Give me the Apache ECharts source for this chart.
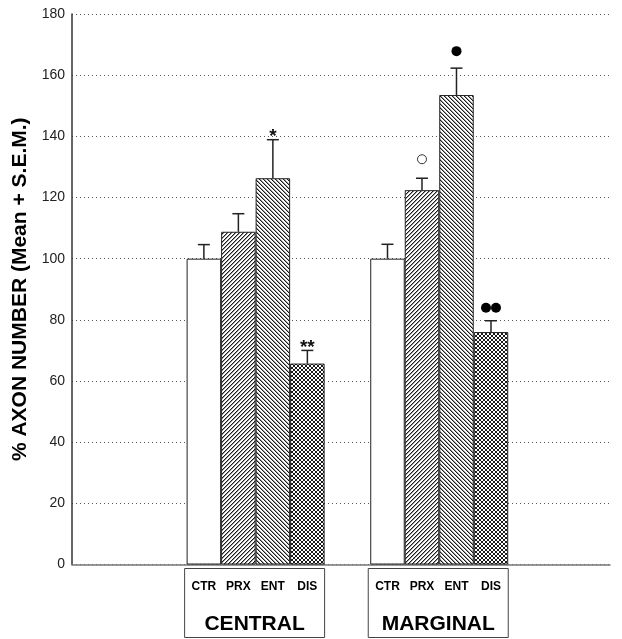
<!DOCTYPE html>
<html>
<head>
<meta charset="utf-8">
<script src="https://cdn.jsdelivr.net/npm/echarts@6/dist/echarts.min.js"></script>
<style>html,body{margin:0;padding:0;background:#fff;}#c{width:622px;height:639px;}</style>
</head>
<body>
<div id="c"></div>
<script>
// ---- data ----
const groups = ['CENTRAL', 'MARGINAL'];
const conditions = ['CTR', 'PRX', 'ENT', 'DIS'];
const ctrMean = [100, 100];
const ctrSem = [4.6, 4.7];
const prxMean = [108.8, 122.4];
const prxSem = [5.9, 3.9];
const entMean = [126.3, 153.5];
const entSem = [12.6, 8.8];
const disMean = [65.7, 76.0];
const disSem = [4.3, 3.7];
const ctrMarks = ['', ''];
const prxMarks = ['', '○'];
const entMarks = ['*', '●'];
const disMarks = ['**', '●●'];
const yTicks = [0, 20, 40, 60, 80, 100, 120, 140, 160, 180];
const yTitle = '% AXON NUMBER (Mean + S.E.M.)';

const means = [ctrMean, prxMean, entMean, disMean];
const sems = [ctrSem, prxSem, entSem, disSem];
const marks = [ctrMarks, prxMarks, entMarks, disMarks];

// ---- styles ----
const FONT = "'Liberation Sans', Arial, sans-serif";
const BAR_W = 34.5;
const INK = '#222';

function hatch(kind) {
  const n = 4;
  if (kind === 'none') return '#fff';
  const c = document.createElement('canvas');
  c.width = n; c.height = n;
  const g = c.getContext('2d');
  g.fillStyle = '#fff';
  g.fillRect(0, 0, n, n);
  for (let i = 0; i < n; i++) {
    if (kind === '/') {
      g.fillStyle = '#9a9a9a'; g.fillRect((i + 1) % n, n - 1 - i, 1, 1);
      g.fillStyle = '#1a1a1a'; g.fillRect(i, n - 1 - i, 1, 1);
    }
    if (kind === '\\') {
      g.fillStyle = '#9a9a9a'; g.fillRect((i + 1) % n, i, 1, 1);
      g.fillStyle = '#1a1a1a'; g.fillRect(i, i, 1, 1);
    }
    if (kind === 'x') {
      g.fillStyle = '#1a1a1a';
      g.fillRect(i, n - 1 - i, 1, 1);
      g.fillRect(i, i, 1, 1);
    }
  }
  return { image: c, repeat: 'repeat' };
}
const fills = [hatch('none'), hatch('/'), hatch('\\'), hatch('x')];

const chart = echarts.init(document.getElementById('c'), null, { renderer: 'canvas' });

const barSeries = conditions.map((name, k) => ({
  type: 'bar',
  name: name,
  data: groups.map((g, i) => [i + 1, means[k][i]]),
  barWidth: BAR_W,
  barGap: '0%',
  itemStyle: { color: fills[k], borderColor: INK, borderWidth: 1 },
  z: 2,
  silent: true
}));

const errSeries = conditions.map((name, k) => ({
  type: 'custom',
  name: name + '-err',
  data: groups.map((g, i) => [i + 1, means[k][i], means[k][i] + sems[k][i]]),
  z: 3,
  silent: true,
  renderItem: function (params, api) {
    const base = api.coord([api.value(0), api.value(1)]);
    const top = api.coord([api.value(0), api.value(2)]);
    const x = base[0] + (k - 1.5) * BAR_W;
    const yt = top[1];
    const children = [
      { type: 'line', shape: { x1: x, y1: base[1], x2: x, y2: yt }, style: { stroke: INK, lineWidth: 1.5 } },
      { type: 'line', shape: { x1: x - 6, y1: yt, x2: x + 6, y2: yt }, style: { stroke: INK, lineWidth: 1.5 } }
    ];
    const m = marks[k][params.dataIndex];
    if (m === '*' || m === '**') {
      children.push({ type: 'text', style: { text: m, x: x, y: yt - 3, align: 'center', verticalAlign: 'middle', font: 'bold 19px ' + FONT, fill: '#111' } });
    } else if (m === '○') {
      children.push({ type: 'circle', shape: { cx: x, cy: yt - 19, r: 4.5 }, style: { fill: '#fff', stroke: '#333', lineWidth: 1 } });
    } else if (m === '●') {
      children.push({ type: 'circle', shape: { cx: x, cy: yt - 17, r: 5 }, style: { fill: '#000' } });
    } else if (m === '●●') {
      children.push({ type: 'circle', shape: { cx: x - 5, cy: yt - 13, r: 5 }, style: { fill: '#000' } });
      children.push({ type: 'circle', shape: { cx: x + 5, cy: yt - 13, r: 5 }, style: { fill: '#000' } });
    }
    return { type: 'group', children: children };
  }
}));

const boxSeries = {
  type: 'custom',
  name: 'groups',
  data: groups.map((g, i) => [i + 1, 0]),
  z: 3,
  silent: true,
  renderItem: function (params, api) {
    const c = api.coord([api.value(0), 0]);
    const children = [
      { type: 'rect', shape: { x: c[0] - 71, y: c[1] + 4, width: 140, height: 69 }, style: { fill: 'none', stroke: '#444', lineWidth: 1 } },
      { type: 'text', style: { text: groups[params.dataIndex], x: c[0] - 1, y: c[1] + 60, align: 'center', verticalAlign: 'middle', font: 'bold 21px ' + FONT, fill: '#000' } }
    ];
    conditions.forEach((cn, k) => {
      children.push({ type: 'text', style: { text: cn, x: c[0] + (k - 1.5) * BAR_W, y: c[1] + 22, align: 'center', verticalAlign: 'middle', font: 'bold 12px ' + FONT, fill: '#000' } });
    });
    return { type: 'group', children: children };
  }
};

chart.setOption({
  animation: false,
  backgroundColor: '#fff',
  grid: { left: 72, right: 12, top: 14, bottom: 74.5, containLabel: false },
  xAxis: {
    type: 'value',
    min: 0,
    max: 2.93,
    axisLine: { show: true, lineStyle: { color: '#777', width: 1.5 } },
    axisTick: { show: false },
    axisLabel: { show: false },
    splitLine: { show: false }
  },
  yAxis: {
    type: 'value',
    min: yTicks[0],
    max: yTicks[yTicks.length - 1],
    interval: yTicks[1] - yTicks[0],
    name: yTitle,
    nameLocation: 'middle',
    nameGap: 32,
    nameTextStyle: { fontFamily: FONT, fontWeight: 'bold', fontSize: 21, color: '#000' },
    axisLine: { show: true, lineStyle: { color: '#333', width: 1.5 } },
    axisTick: { show: false },
    axisLabel: { fontFamily: FONT, fontSize: 14, color: '#222', margin: 7 },
    splitLine: { show: true, lineStyle: { color: '#555', type: [1, 3], width: 1 } }
  },
  series: [...barSeries, ...errSeries, boxSeries]
});
</script>
</body>
</html>
